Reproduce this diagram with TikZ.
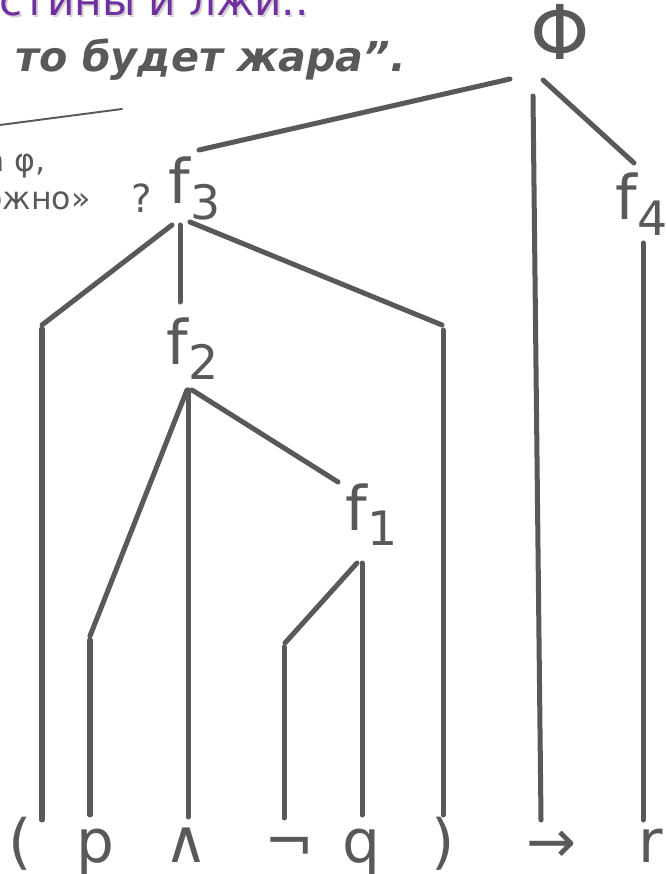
\documentclass[tikz,border=0pt]{standalone}
\usepackage{fontspec}
\setmainfont{DejaVu Sans}
\usepackage{tkz-euclide}
\definecolor{treegray}{HTML}{595959}
\definecolor{titlepurple}{HTML}{7030A0}
\newcommand\fsub[1]{f\raisebox{-9pt}{\fontsize{27}{27}\selectfont #1}}

\begin{document}
\begin{tikzpicture}[x=0.02cm,y=-0.02cm,
    seg/.style={treegray,line width=2.85pt},
    lbl/.style={treegray,inner sep=0pt,anchor=base west,font=\fontsize{35}{35}\selectfont},
    sym/.style={treegray,inner sep=0pt,anchor=base,font=\fontsize{34}{34}\selectfont},
    note/.style={treegray,inner sep=0pt,font=\fontsize{18}{18}\selectfont}]
            \useasboundingbox (0,0) rectangle (665,874);

            \node[gray!35,inner sep=0pt,anchor=base west,font=\fontsize{24}{24}\selectfont] (titleshadow) at (1,18) {стины и лжи..};
            \node[titlepurple,inner sep=0pt,anchor=base west,font=\fontsize{24}{24}\selectfont] (title) at (-1,16) {стины и лжи..};
            \node[treegray,inner sep=0pt,anchor=base west,font=\fontsize{23.5}{23.5}\selectfont\bfseries\itshape] (saying) at (15,72) {то будет жара".};
            \tkzDefPoint(0,125){rule_a}
            \tkzDefPoint(122,109){rule_b}
            \tkzDrawSegment[treegray,line width=1.1pt](rule_a,rule_b)
            \node[note,anchor=base east] (phitext) at (46,172) {а φ,};
            \node[note,anchor=base east] (falsetext) at (91,210) {ожно»};
            \node[note,anchor=base west,font=\fontsize{22}{22}\selectfont] (question) at (131,213) {?};

            \node[treegray,inner sep=0pt,anchor=base,font=\fontsize{43}{43}\selectfont] (Phi) at (560,60) {Φ};
            \node[lbl] (f_4) at (615,220) {\fsub{4}};
            \node[lbl] (f_3) at (168,204) {\fsub{3}};
            \node[lbl] (f_2) at (166,364) {\fsub{2}};
            \node[lbl] (f_1) at (345,530) {\fsub{1}};

            \node[sym] (s_lp) at (20,862) {(};
            \node[sym] (s_p) at (95,862) {p};
            \node[sym] (s_and) at (186,862) {∧};
            \node[sym] (s_not) at (290,862) {¬};
            \node[sym] (s_q) at (361,862) {q};
            \node[sym] (s_rp) at (443,862) {)};
            \node[sym] (s_imp) at (552,862) {→};
            \node[sym] (s_r) at (651,862) {r};

            \tkzDefPoint(510,79){Phi_l}
            \tkzDefPoint(543,80){Phi_r}
            \tkzDefPoint(533,96){Phi_m}
            \tkzDefPoint(199,150){f3_t}
            \tkzDefPoint(634,163){f4_t}
            \tkzDefPoint(643,243){f4_b}
            \tkzDefPoint(541,820){imp_t}
            \tkzDefPoint(643,820){r_t}
            \tkzDrawSegments[seg](Phi_l,f3_t Phi_r,f4_t Phi_m,imp_t f4_b,r_t)

            \tkzDefPoint(172,225){f3_l}
            \tkzDefPoint(180,225){f3_m}
            \tkzDefPoint(190,222){f3_r}
            \tkzDefPoint(42,325){lp_c}
            \tkzDefPoint(42,329){lp_u}
            \tkzDefPoint(42,820){lp_t}
            \tkzDefPoint(180,302){f2_t}
            \tkzDefPoint(442,325){rp_c}
            \tkzDefPoint(443,330){rp_u}
            \tkzDefPoint(443,815){rp_t}
            \tkzDrawSegments[seg](f3_l,lp_c lp_u,lp_t f3_m,f2_t f3_r,rp_c rp_u,rp_t)

            \tkzDefPoint(187,390){f2_l}
            \tkzDefPoint(188,390){f2_m}
            \tkzDefPoint(192,390){f2_r}
            \tkzDefPoint(90,636){p_c}
            \tkzDefPoint(90,640){p_u}
            \tkzDefPoint(90,815){p_t}
            \tkzDefPoint(188,817){and_t}
            \tkzDefPoint(338,482){f1_t}
            \tkzDrawSegments[seg](f2_l,p_c p_u,p_t f2_m,and_t f2_r,f1_t)

            \tkzDefPoint(357,563){f1_l}
            \tkzDefPoint(362,563){f1_m}
            \tkzDefPoint(285,643){not_c}
            \tkzDefPoint(284,647){not_u}
            \tkzDefPoint(284,818){not_t}
            \tkzDefPoint(362,815){q_t}
            \tkzDrawSegments[seg](f1_l,not_c not_u,not_t f1_m,q_t)

        \end{tikzpicture}
\end{document}
